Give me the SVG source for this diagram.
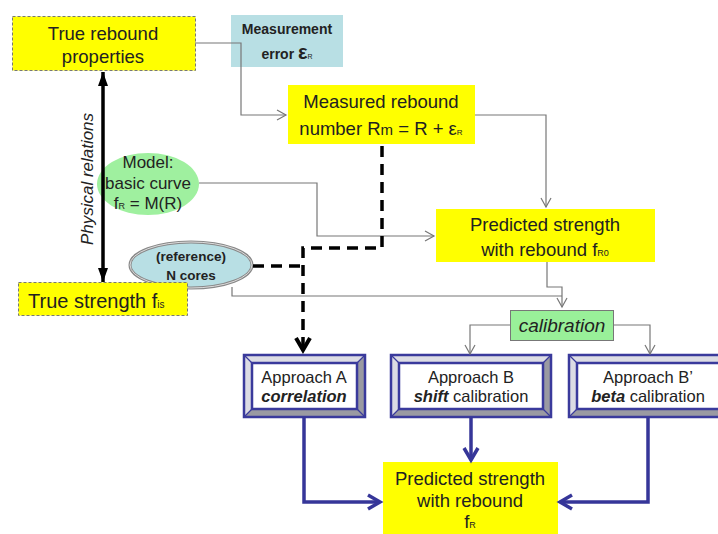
<svg xmlns="http://www.w3.org/2000/svg" width="718" height="534" viewBox="0 0 718 534">
<style>
text{font-family:"Liberation Sans",Arial,sans-serif;fill:#222;}
.c{text-anchor:middle;}
.y{fill:#ffff00;}
.yd{fill:#ffff00;stroke:#777;stroke-width:1;stroke-dasharray:3 2;}
.g{fill:none;stroke:#777;stroke-width:1.2;}
.blk{fill:none;stroke:#000;stroke-width:3.5;stroke-dasharray:11 7;}
.bl{fill:none;stroke:#363699;stroke-width:3.5;}
.ob{fill:none;stroke:#3a3a9c;stroke-width:2.5;}
.lt{fill:#dcdce4;}
.dk{fill:#9a9aa2;}
.dg{stroke:#3a3a9c;stroke-width:1.2;}
.f{font-size:18.5px;}
.ap{font-size:16.5px;}
</style>
<defs>
<marker id="ag" markerWidth="12" markerHeight="12" refX="10" refY="6" orient="auto" markerUnits="userSpaceOnUse">
<path d="M1,1 L10,6 L1,11" fill="none" stroke="#777" stroke-width="1.2"/>
</marker>
<marker id="ab" markerWidth="20" markerHeight="20" refX="16" refY="10" orient="auto" markerUnits="userSpaceOnUse">
<path d="M4,3 L16,10 L4,17" fill="none" stroke="#363699" stroke-width="3.5"/>
</marker>
<marker id="ak" markerWidth="20" markerHeight="20" refX="16" refY="10" orient="auto" markerUnits="userSpaceOnUse">
<path d="M4,3 L16,10 L4,17" fill="none" stroke="#000" stroke-width="4"/>
</marker>
<marker id="af" markerWidth="16" markerHeight="16" refX="14" refY="8" orient="auto-start-reverse" markerUnits="userSpaceOnUse">
<path d="M0,3 L14,8 L0,13 Z" fill="#000"/>
</marker>
</defs>

<g id="true-rebound">
<rect class="yd" x="12.5" y="16.5" width="183" height="54"/>
<text class="c f" x="103" y="40">True rebound</text>
<text class="c f" x="103" y="63">properties</text>
</g>

<g id="measurement-error">
<rect x="231" y="15" width="112" height="52" fill="#b8dfe4"/>
<text class="c" x="287" y="34" font-size="14" font-weight="bold">Measurement</text>
<text class="c" x="287" y="59" font-size="14" font-weight="bold">error <tspan font-size="20">ε</tspan><tspan font-size="7" font-weight="normal">R</tspan></text>
</g>

<g id="measured-rebound">
<rect class="y" x="288" y="85" width="187" height="59"/>
<text class="c f" x="381" y="108">Measured rebound</text>
<text class="c f" x="381" y="135">number R<tspan font-size="15">m</tspan> = R + ε<tspan font-size="8">R</tspan></text>
</g>

<g id="model">
<ellipse cx="148" cy="184" rx="51" ry="31" fill="#9ff09f"/>
<text class="c" x="148" y="168" font-size="17">Model:</text>
<text class="c" x="148" y="189" font-size="17">basic curve</text>
<text class="c" x="148" y="209" font-size="17">f<tspan font-size="9">R</tspan> = M(R)</text>
</g>

<g id="predicted-fr0">
<rect class="y" x="436" y="209" width="219" height="53"/>
<text class="c f" x="545" y="231">Predicted strength</text>
<text class="c f" x="545" y="256">with rebound f<tspan font-size="9">R0</tspan></text>
</g>

<g id="n-cores">
<ellipse cx="191" cy="265" rx="61" ry="23" fill="#b8dfe4" stroke="#888" stroke-width="3"/>
<ellipse cx="191" cy="265" rx="61" ry="23" fill="none" stroke="#ddd" stroke-width="1"/>
<text class="c" x="191" y="261" font-size="13.5" font-weight="bold">(reference)</text>
<text class="c" x="191" y="280" font-size="13.5" font-weight="bold">N cores</text>
</g>

<g id="true-strength">
<rect class="yd" x="18.5" y="282.5" width="169" height="33"/>
<text x="28" y="308" font-size="20">True strength f<tspan font-size="10">is</tspan></text>
</g>

<g id="calibration">
<rect x="510.5" y="310.5" width="103" height="30" fill="#99f099" stroke="#777" stroke-width="1"/>
<text class="c" x="562" y="332" font-size="19" font-style="italic">calibration</text>
</g>

<g id="approach-a">
<polygon class="lt" points="244,355 365,355 357,363 252,363"/>
<polygon class="lt" points="244,355 252,363 252,409 244,417"/>
<polygon class="dk" points="365,355 365,417 357,409 357,363"/>
<polygon class="dk" points="244,417 252,409 357,409 365,417"/>
<path class="dg" d="M244,355 L252,363 M365,355 L357,363 M244,417 L252,409 M365,417 L357,409"/>
<rect class="ob" x="244" y="355" width="121" height="62"/>
<rect class="ob" x="252" y="363" width="105" height="46" fill="#fff"/>
<text class="c ap" x="304" y="383">Approach A</text>
<text class="c ap" x="304" y="402" font-weight="bold" font-style="italic">correlation</text>
</g>

<g id="approach-b">
<polygon class="lt" points="391,355 551,355 543,363 399,363"/>
<polygon class="lt" points="391,355 399,363 399,409 391,417"/>
<polygon class="dk" points="551,355 551,417 543,409 543,363"/>
<polygon class="dk" points="391,417 399,409 543,409 551,417"/>
<path class="dg" d="M391,355 L399,363 M551,355 L543,363 M391,417 L399,409 M551,417 L543,409"/>
<rect class="ob" x="391" y="355" width="160" height="62"/>
<rect class="ob" x="399" y="363" width="144" height="46" fill="#fff"/>
<text class="c ap" x="471" y="383">Approach B</text>
<text class="c ap" x="471" y="402"><tspan font-weight="bold" font-style="italic">shift</tspan> calibration</text>
</g>

<g id="approach-b-prime">
<polygon class="lt" points="569,355 730,355 722,363 577,363"/>
<polygon class="lt" points="569,355 577,363 577,409 569,417"/>
<polygon class="dk" points="569,417 577,409 722,409 730,417"/>
<path class="dg" d="M569,355 L577,363 M569,417 L577,409"/>
<rect class="ob" x="569" y="355" width="161" height="62"/>
<rect class="ob" x="577" y="363" width="145" height="46" fill="#fff"/>
<text class="c ap" x="648" y="383">Approach B’</text>
<text class="c ap" x="648" y="402"><tspan font-weight="bold" font-style="italic">beta</tspan> calibration</text>
</g>

<g id="predicted-fr">
<rect class="y" x="383" y="462" width="175" height="72"/>
<text class="c f" x="470" y="485">Predicted strength</text>
<text class="c f" x="470" y="507">with rebound</text>
<text class="c f" x="470" y="528">f<tspan font-size="9">R</tspan></text>
</g>

<g id="connectors">
<polyline class="g" points="195,43 241,43 241,115 286,115" marker-end="url(#ag)"/>
<polyline class="g" points="475,115 546,115 546,207" marker-end="url(#ag)"/>
<polyline class="g" points="199,183 317,183 317,236 434,236" marker-end="url(#ag)"/>
<polyline class="g" points="547,262 547,287 562,287 562,307" marker-end="url(#ag)"/>
<polyline class="g" points="232,287 232,296 562,296"/>
<polyline class="g" points="510,325 470,325 470,354" marker-end="url(#ag)"/>
<polyline class="g" points="614,325 650,325 650,354" marker-end="url(#ag)"/>
<polyline class="blk" points="382,146 382,248 303,248 303,350" marker-end="url(#ak)"/>
<polyline class="blk" points="253,266 303,266"/>
<line x1="103" y1="72" x2="103" y2="282" stroke="#000" stroke-width="3.5" marker-start="url(#af)" marker-end="url(#af)"/>
<polyline class="bl" points="304,417 304,502 380,502" marker-end="url(#ab)"/>
<polyline class="bl" points="471,417 471,460" marker-end="url(#ab)"/>
<polyline class="bl" points="648,417 648,502 560,502" marker-end="url(#ab)"/>
<text transform="translate(93,179) rotate(-90)" class="c" font-size="16" font-style="italic" fill="#333" textLength="132" lengthAdjust="spacingAndGlyphs">Physical relations</text>
</g>
</svg>
